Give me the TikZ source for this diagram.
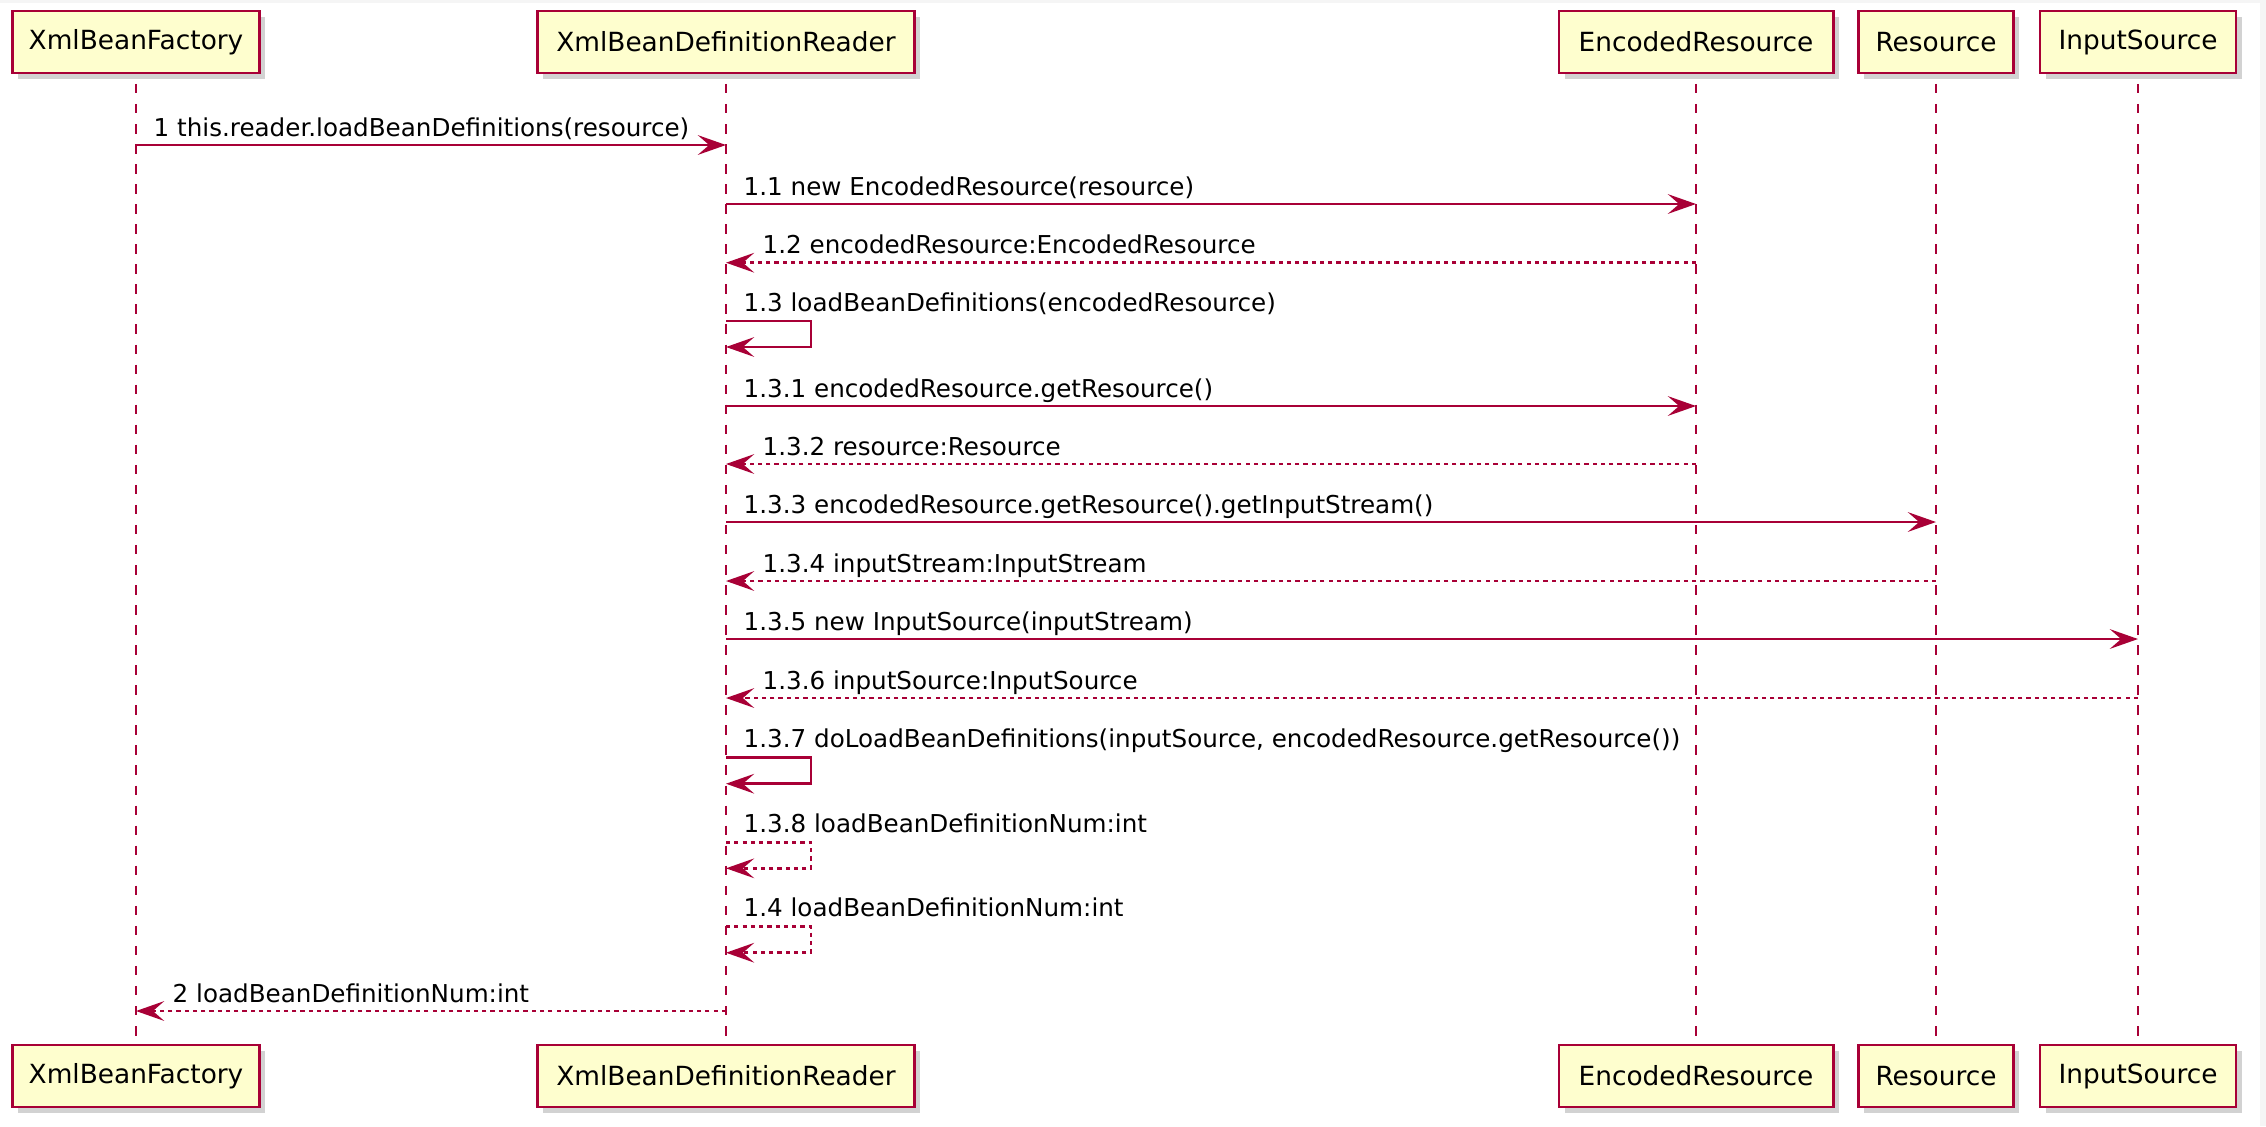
\documentclass[tikz,border=0pt]{standalone}
\usepackage{fontspec}
\setmainfont{DejaVu Sans}
\usetikzlibrary{arrows.meta,shadows}
\definecolor{umlred}{HTML}{A80036}
\definecolor{umlfill}{HTML}{FEFECE}

\begin{document}
\begin{tikzpicture}[x=0.01cm,y=-0.01cm,
		font=\fontsize{7}{8}\selectfont,
		part/.style={draw=umlred,fill=umlfill,line width=0.8pt,minimum height=0.62cm,
			font=\fontsize{7.5}{9}\selectfont,
			drop shadow={shadow xshift=1.6pt,shadow yshift=-1.6pt,opacity=0.35}},
		life/.style={umlred,line width=0.7pt,dash pattern=on 2.7pt off 3pt,dash phase=3pt},
		call/.style={umlred,line width=0.75pt,-{Stealth[length=8pt,width=5.6pt,inset=3.2pt]}},
		ret/.style={call,dash pattern=on 1.2pt off 1.15pt},
		msg/.style={anchor=base west,inner sep=0pt}]
		% page and frame
		\fill[gray!8] (0,0) rectangle (2266,1126);
		\fill[white] (0,3) rectangle (2260,1126);
		% participants, top and bottom, with lifelines
		\foreach \n/\x/\w/\t in {fac/136/2.47/XmlBeanFactory, rdr/726/3.77/XmlBeanDefinitionReader,
			enc/1696/2.74/EncodedResource, res/1936/1.55/Resource, inp/2138/1.96/InputSource}{
			\node[part,minimum width=\w cm] (\n) at (\x,42) {\t};
			\node[part,minimum width=\w cm] (\n B) at (\x,1076) {\t};
			\draw[life] (\n) -- (\n B);
		}
		% calls
		\foreach \a/\b/\y/\t [count=\i] in {fac/rdr/145/{1 this.reader.loadBeanDefinitions(resource)},
			rdr/enc/204/{1.1 new EncodedResource(resource)},
			rdr/enc/406/{1.3.1 encodedResource.getResource()},
			rdr/res/522/{1.3.3 encodedResource.getResource().getInputStream()},
			rdr/inp/639/{1.3.5 new InputSource(inputStream)}}{
			\draw[call] (\a |- 0,\y) coordinate (c\i) -- (\b |- 0,\y);
			\node[msg] (cl\i) at ([shift={(17,-9)}]c\i) {\t};
		}
		% returns
		\foreach \a/\b/\y/\t [count=\i] in {enc/rdr/262.7/{1.2 encodedResource:EncodedResource},
			enc/rdr/464/{1.3.2 resource:Resource},
			res/rdr/581/{1.3.4 inputStream:InputStream},
			inp/rdr/698/{1.3.6 inputSource:InputSource},
			rdr/fac/1011/{2 loadBeanDefinitionNum:int}}{
			\draw[ret] (\a |- 0,\y) -- (\b |- 0,\y) coordinate (r\i);
			\node[msg] (rl\i) at ([shift={(36,-9)}]r\i) {\t};
		}
		% self messages on the reader
		\foreach \y/\s/\t [count=\i] in {321/call/{1.3 loadBeanDefinitions(encodedResource)},
			757.7/call/{1.3.7 doLoadBeanDefinitions(inputSource, encodedResource.getResource())},
			842.3/ret/{1.3.8 loadBeanDefinitionNum:int},
			926.7/ret/{1.4 loadBeanDefinitionNum:int}}{
			\draw[\s] (rdr |- 0,\y) coordinate (s\i) -- ++(85,0) -- ++(0,26) -- ++(-85,0);
			\node[msg] (sl\i) at ([shift={(17,-10)}]s\i) {\t};
		}
	\end{tikzpicture}
\end{document}
